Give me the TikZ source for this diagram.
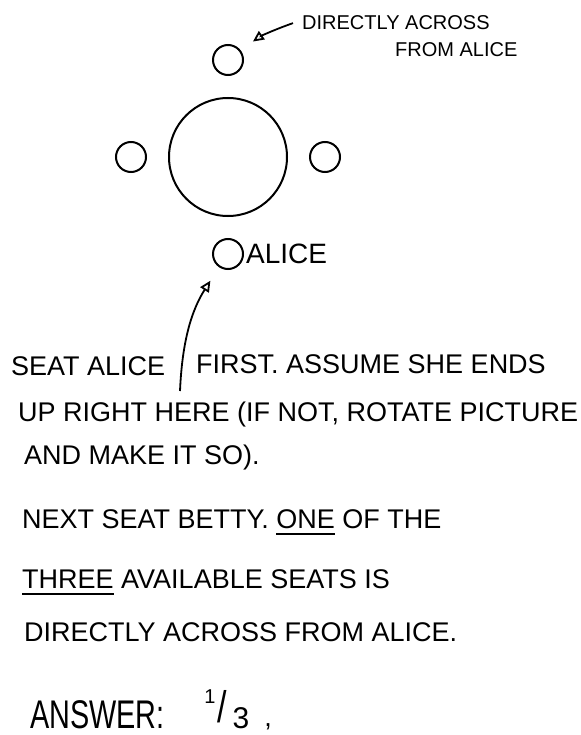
\documentclass[tikz,border=0pt]{standalone}
\usepackage{fontspec}
\usepackage{graphicx}
\setmainfont{Liberation Sans}
\usetikzlibrary{arrows.meta,positioning}
\newcommand{\undl}[1]{\setbox0\hbox{#1}\rlap{\rule[-7pt]{\wd0}{1.6pt}}\copy0\relax}

\begin{document}
\begin{tikzpicture}[x=1pt,y=-1pt,
  seat/.style={circle,draw,line width=2pt,minimum size=30pt,inner sep=0pt},
  tbl/.style={circle,draw,line width=2pt,minimum size=118pt,inner sep=0pt},
  note/.style={anchor=base west,inner sep=0pt,font=\fontsize{27}{32}\selectfont},
  tag/.style={anchor=base west,inner sep=0pt,font=\fontsize{20}{24}\selectfont},
  arr/.style={-{Triangle[open,length=11pt,width=10pt]},line width=1.8pt},
  node distance=21pt]
  \useasboundingbox (0,0) rectangle (580,735);
  % round table and the four seats
  \node[tbl] (table) at (228,157) {};
  \node[seat,above=of table] (seatN) {};
  \node[seat,left=of table]  (seatW) {};
  \node[seat,right=of table] (seatE) {};
  \node[seat,below=of table] (seatS) {};
  \node[right=2pt of seatS,inner sep=0pt,font=\fontsize{28}{32}\selectfont] (alice) {ALICE};
  % label for the seat across
  \node[tag] (across) at (302,30) {DIRECTLY ACROSS};
  \node[tag] (fromA)  at (395,57) {FROM ALICE};
  \draw[arr,shorten >=15pt] ([xshift=-9pt]across.west) to[bend right=8] (seatN);
  % the written argument
  \node[note] (l1a) at (11,375)  {SEAT ALICE};
  \node[note] (l1b) at (196,373) {FIRST. ASSUME SHE ENDS};
  \node[note] (l2)  at (18,421)  {UP RIGHT HERE (IF NOT, ROTATE PICTURE};
  \node[note] (l3)  at (24,464)  {AND MAKE IT SO).};
  \node[note] (l4)  at (22,528)  {NEXT SEAT BETTY. \undl{ONE} OF THE};
  \node[note] (l5)  at (22,588)  {\undl{THREE} AVAILABLE SEATS IS};
  \node[note] (l6)  at (24,641)  {DIRECTLY ACROSS FROM ALICE.};
  \node[anchor=base west,inner sep=0pt,font=\fontsize{40}{44}\selectfont] (ans) at (30,728)
    {\scalebox{0.72}[1]{ANSWER:}};
  \node[inner sep=0pt,font=\fontsize{20}{24}\selectfont] (one) at (210,697) {1};
  \node[inner sep=0pt,font=\fontsize{34}{40}\selectfont] (slash) at (222,707) {\scalebox{1}[1.3]{/}};
  \node[inner sep=0pt,font=\fontsize{30}{34}\selectfont] (three) at (241,718) {3};
  \node[anchor=base,inner sep=0pt,font=\fontsize{27}{30}\selectfont] (comma) at (268,726) {,};
  \coordinate (tail) at (180,391);
  \draw[arr,shorten >=16pt] (tail) to[bend left=15] (seatS);
\end{tikzpicture}
\end{document}
